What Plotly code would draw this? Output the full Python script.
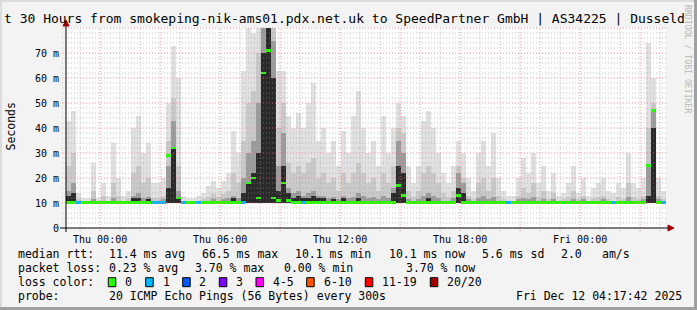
import numpy as np
import pandas as pd
import plotly.graph_objects as go

# ---------------- data ----------------
title_text = "t 30 Hours from smokeping-nik-ams01.pdx.net.uk to SpeedPartner GmbH | AS34225 | Dusseld"
start_time = "2025-12-10 22:17:42"
end_time = "2025-12-12 04:17:42"
bin_minutes = 15
smoke_floor = 10.0

x_tick_vals = ["2025-12-11 00:00", "2025-12-11 03:00", "2025-12-11 06:00", "2025-12-11 09:00",
               "2025-12-11 12:00", "2025-12-11 15:00", "2025-12-11 18:00", "2025-12-11 21:00",
               "2025-12-12 00:00", "2025-12-12 03:00"]
x_tick_text = ["Thu 00:00", "", "Thu 06:00", "", "Thu 12:00", "", "Thu 18:00", "", "Fri 00:00", ""]
y_tick_vals = [0, 10, 20, 30, 40, 50, 60, 70]
y_tick_text = ["0", "10 m", "20 m", "30 m", "40 m", "50 m", "60 m", "70 m"]

max_top = [
    43, 47, 14, 12, 12, 26, 12, 18, 13, 34,
    20, 13, 15, 40, 45, 30, 34, 18, 18, 20,
    50, 73, 60, 13, 12, 12, 13, 14, 17, 19,
    16, 19, 22, 39, 30, 63, 80, 78, 80, 80,
    80, 80, 63, 63, 45, 40, 46, 40, 50, 58,
    35, 40, 30, 35, 25, 39, 30, 45, 55, 40,
    30, 35, 25, 45, 30, 40, 50, 45, 25, 18,
    25, 43, 47, 40, 30, 22, 18, 25, 35, 30,
    20, 15, 30, 35, 25, 38, 20, 15, 13, 13,
    20, 28, 22, 30, 18, 25, 15, 22, 13, 14,
    18, 25, 14, 20, 13, 16, 18, 20, 15, 14,
    18, 16, 30, 18, 16, 20, 74, 60, 20, 15,
]
p90_top = [
    25, 30, 11.5, 11, 11, 15, 11, 13, 11, 18,
    13, 11, 12, 22, 25, 18, 20, 12, 12, 13,
    35, 52, 25, 11, 11, 11, 11, 11.5, 12.5, 13.5,
    12.5, 13.5, 15, 22, 18, 35, 50, 55, 70, 80,
    80, 80, 40, 50, 26, 22, 25, 22, 26, 28,
    20, 22, 18, 20, 15, 22, 18, 22, 26, 22,
    18, 20, 15, 22, 18, 25, 40, 38, 15, 12.5,
    15, 22, 25, 22, 18, 14, 12.5, 15, 25, 20,
    13, 11.5, 18, 20, 15, 20, 13, 11.5, 11, 11,
    13, 16, 14, 18, 12.5, 15, 11.5, 14, 11, 11.5,
    12.5, 15, 11.5, 13, 11, 12, 12.5, 13, 11.5, 11,
    12.5, 11.5, 18, 12.5, 11.5, 13, 40, 50, 13, 11.5,
]
p75_top = [
    15, 18, 10.8, 10.5, 10.5, 11.5, 10.5, 11, 10.6, 12,
    11, 10.6, 10.8, 13, 14, 12, 12.5, 11, 11, 11.5,
    25, 43, 15, 10.5, 10.5, 10.5, 10.5, 10.8, 11, 11.5,
    11, 11.5, 12, 13, 12, 20, 30, 35, 50, 80,
    80, 75, 25, 38, 16, 14, 15, 13, 14, 15,
    13, 13, 12, 12.5, 11.5, 13, 12, 12.5, 14, 13,
    12, 12.5, 11.5, 13, 12, 16, 35, 30, 11.5, 11,
    11.5, 13, 14, 13, 12, 11, 11, 12, 22, 18,
    11.5, 10.8, 12, 13, 11.5, 12.5, 11, 10.8, 10.5, 10.5,
    11.5, 12, 11.5, 12.5, 11, 11.5, 10.8, 11.5, 10.5, 10.6,
    11, 11.5, 10.6, 11.5, 10.5, 10.8, 11, 11.5, 10.8, 10.6,
    11, 10.8, 12.5, 11, 10.8, 11.5, 25, 47, 11.5, 10.8,
]
dark_top = [
    13, 14, 10.5, 10.3, 10.3, 10.8, 10.3, 10.8, 10.4, 11,
    10.8, 10.4, 10.5, 12, 12, 11, 11.5, 10.6, 10.6, 10.8,
    16, 32, 12, 10.3, 10.3, 10.3, 10.3, 10.5, 10.6, 10.8,
    10.6, 10.8, 11, 12, 11, 14, 18, 22, 30, 70,
    80, 60, 15, 25, 14, 12, 13, 12, 12, 13,
    12, 12, 11, 11.5, 11, 12, 11, 11, 12, 11,
    11, 11, 10.8, 11, 10.8, 14, 25, 22, 10.8, 10.5,
    10.8, 11, 12, 11, 10.8, 10.5, 10.5, 11, 16, 14,
    10.6, 10.4, 10.8, 11, 10.6, 11, 10.5, 10.4, 10.3, 10.3,
    10.6, 10.8, 10.6, 11, 10.5, 10.6, 10.4, 10.6, 10.3, 10.4,
    10.5, 10.6, 10.4, 10.6, 10.3, 10.4, 10.5, 10.6, 10.4, 10.4,
    10.5, 10.4, 11, 10.5, 10.4, 10.6, 13, 40, 10.6, 10.4,
]
median_rtt = [
    10.2, 10.2, 10.2, 10.2, 10.2, 10.2, 10.2, 10.2, 10.2, 10.2,
    10.2, 10.2, 10.2, 10.2, 10.2, 10.2, 10.2, 10.2, 10.2, 10.2,
    29, 32, 12, 10.2, 10.2, 10.2, 10.2, 10.2, 10.2, 10.2,
    10.2, 10.2, 10.2, 10.2, 10.2, 10.2, 18, 20, 12, 62,
    71, 12, 11, 18, 11, 10.2, 10.2, 10.2, 10.2, 10.2,
    10.2, 10.2, 10.2, 10.2, 10.2, 10.2, 10.2, 10.2, 10.2, 10.2,
    10.2, 10.2, 10.2, 10.2, 10.2, 10.2, 17, 13, 10.2, 10.2,
    10.2, 10.2, 10.2, 10.2, 10.2, 10.2, 10.2, 10.2, 13, 10.2,
    10.2, 10.2, 10.2, 10.2, 10.2, 10.2, 10.2, 10.2, 10.2, 10.2,
    10.2, 10.2, 10.2, 10.2, 10.2, 10.2, 10.2, 10.2, 10.2, 10.2,
    10.2, 10.2, 10.2, 10.2, 10.2, 10.2, 10.2, 10.2, 10.2, 10.2,
    10.2, 10.2, 10.2, 10.2, 10.2, 10.2, 25, 47, 10.2, 10.2,
]
loss_bins = [
    0, 0, 1, 0, 0, 0, 0, 0, 0, 0,
    0, 0, 0, 0, 0, 0, 0, 1, 1, 1,
    0, 0, 0, 1, 0, 0, 1, 0, 0, 0,
    0, 0, 0, 0, 0, 1, 0, 0, 0, 0,
    0, 0, 0, 0, 0, 0, 0, 1, 0, 0,
    0, 0, 0, 0, 0, 0, 0, 0, 0, 0,
    0, 0, 0, 0, 0, 0, 0, 0, 0, 0,
    0, 0, 0, 0, 0, 0, 0, 0, 0, 0,
    0, 0, 0, 0, 0, 0, 0, 0, 1, 0,
    0, 0, 0, 0, 0, 0, 0, 0, 0, 0,
    0, 0, 0, 0, 0, 0, 0, 0, 0, 1,
    0, 0, 0, 0, 0, 0, 0, 0, 0, 1,
]
loss_labels = ["0", "1", "2", "3", "4-5", "6-10", "11-19", "20/20"]
loss_colors = ["#26ff00", "#00b8ff", "#0059ff", "#7e00ff", "#ff00ff", "#ff5500", "#ff0000", "#a10000"]

stat_line1 = ["median rtt:", "11.4 ms avg", "66.5 ms max", "10.1 ms min", "10.1 ms now", "5.6 ms sd", "2.0", "am/s"]
stat_line2 = ["packet loss:", "0.23 % avg", "3.70 % max", "0.00 % min", "3.70 % now"]
probe_line = ["probe:", "20 ICMP Echo Pings (56 Bytes) every 300s", "Fri Dec 12 04:17:42 2025"]
loss_title = "loss color:"
watermark = "RRDTOOL / TOBI OETIKER"

# ---------------- layout geometry (pixels) ----------------
W, H = 697, 310
L, R, T, B = 66, 666, 27, 228
MONO = "DejaVu Sans Mono"


def xp(px):
    return (px - L) / (R - L)


def yp(py):
    return (B - py) / (B - T)


n_bins = len(max_top)
t0 = pd.Timestamp(start_time)
bin_times = [t0 + pd.Timedelta(minutes=bin_minutes * (i + 0.5)) for i in range(n_bins)]
bin_ms = bin_minutes * 60 * 1000

fig = go.Figure()
bands = [(max_top, "#e0e0e0"), (p90_top, "#c9c9c9"), (p75_top, "#9c9c9c"), (dark_top, "#2a2a2a")]
for top, col in bands:
    fig.add_trace(go.Bar(
        x=bin_times, y=[v - smoke_floor for v in top], base=smoke_floor, width=bin_ms,
        marker=dict(color=col, line=dict(width=0)), hoverinfo="skip", showlegend=False))

fig.add_trace(go.Bar(
    x=bin_times, y=[0.9] * n_bins, base=[m - 0.45 for m in median_rtt], width=bin_ms,
    marker=dict(color=[loss_colors[k] for k in loss_bins], line=dict(width=0)),
    hoverinfo="skip", showlegend=False))

shapes = []
# grid (drawn above like rrdtool)
hours = pd.date_range("2025-12-10 23:00", "2025-12-12 04:00", freq="h")
for h in hours:
    major = h.hour % 3 == 0
    shapes.append(dict(type="line", xref="x", yref="paper", x0=h, x1=h, y0=yp(231), y1=1,
                       line=dict(color="rgba(240,110,110,0.75)" if major else "rgba(150,150,150,0.55)",
                                 width=1, dash="1px,2px"), layer="above"))
for v in range(2, 81, 2):
    major = v % 10 == 0
    shapes.append(dict(type="line", xref="paper", yref="y", x0=xp(62), x1=1, y0=v, y1=v,
                       line=dict(color="rgba(240,110,110,0.75)" if major else "rgba(150,150,150,0.55)",
                                 width=1, dash="1px,2px"), layer="above"))
# axes lines and arrows
shapes.append(dict(type="line", xref="paper", yref="paper", x0=xp(60), x1=xp(670), y0=0, y1=0,
                   line=dict(color="black", width=1), layer="above"))
shapes.append(dict(type="line", xref="paper", yref="paper", x0=0, x1=0, y0=yp(232), y1=yp(24),
                   line=dict(color="black", width=1), layer="above"))
shapes.append(dict(type="path", xref="paper", yref="paper",
                   path=f"M {xp(668)} {yp(225)} L {xp(674)} {yp(228)} L {xp(668)} {yp(231)} Z",
                   fillcolor="#a00000", line=dict(color="#a00000", width=1), layer="above"))
shapes.append(dict(type="path", xref="paper", yref="paper",
                   path=f"M {xp(63)} {yp(26)} L {xp(66)} {yp(20)} L {xp(69)} {yp(26)} Z",
                   fillcolor="#a00000", line=dict(color="#a00000", width=1), layer="above"))
# frame
shapes.append(dict(type="rect", xref="paper", yref="paper", x0=xp(694), x1=xp(697), y0=yp(0), y1=yp(310),
                   fillcolor="#a0a0a0", line=dict(width=0), layer="above"))
shapes.append(dict(type="rect", xref="paper", yref="paper", x0=xp(0), x1=xp(697), y0=yp(307), y1=yp(310),
                   fillcolor="#a0a0a0", line=dict(width=0), layer="above"))
shapes.append(dict(type="rect", xref="paper", yref="paper", x0=xp(0), x1=xp(2), y0=yp(0), y1=yp(307),
                   fillcolor="#dcdcdc", line=dict(width=0), layer="above"))
shapes.append(dict(type="rect", xref="paper", yref="paper", x0=xp(0), x1=xp(694), y0=yp(0), y1=yp(2),
                   fillcolor="#dcdcdc", line=dict(width=0), layer="above"))

ann = []


def text(s, px, py, size=11.5, anchor="left", color="black", angle=0):
    ann.append(dict(text=s, xref="paper", yref="paper", x=xp(px), y=yp(py), xanchor=anchor,
                    yanchor="middle", showarrow=False, textangle=angle,
                    font=dict(family=MONO, size=size, color=color)))


text(title_text, 1.5, 18.5, size=13)
text("Seconds", 10.5, 127, size=11.5, anchor="center", angle=-90)
text(watermark, 688, 59, size=8.2, anchor="center", color="#b8b8b8", angle=90)

for s, px in zip(stat_line1, [16, 107, 200, 293, 387, 480, 559, 600]):
    text(s, px, 254.3)
for s, px in zip(stat_line2, [16, 107, 193, 282, 404]):
    text(s, px, 268.3)
text(loss_title, 16, 281.7)
box_x = [108.3, 145.7, 182.7, 219.3, 256, 306.7, 365.3, 430.3]
lab_x = [123.3, 160.7, 197.3, 234, 270.7, 321.7, 380.3, 445.3]
for lab, col, bx, lx in zip(loss_labels, loss_colors, box_x, lab_x):
    shapes.append(dict(type="rect", xref="paper", yref="paper", x0=xp(bx), x1=xp(bx + 7.5),
                       y0=yp(286.7), y1=yp(277.7), fillcolor=col, line=dict(color="black", width=1)))
    text(lab, lx, 281.7)
for s, px in zip(probe_line, [16, 107, 514]):
    text(s, px, 296)

fig.update_layout(
    width=W, height=H, margin=dict(l=L, r=W - R, t=T, b=H - B, pad=0),
    paper_bgcolor="#f3f3f3", plot_bgcolor="white",
    barmode="overlay", bargap=0, showlegend=False,
    shapes=shapes, annotations=ann,
    font=dict(family=MONO, size=10, color="black"),
)
fig.update_xaxes(type="date", range=[start_time, end_time], tickmode="array",
                 tickvals=x_tick_vals, ticktext=x_tick_text, showgrid=False, zeroline=False,
                 showline=False, ticks="", tickfont=dict(family=MONO, size=10, color="black"),
                 ticklabelstandoff=4)
fig.update_yaxes(range=[0, 80.4], tickmode="array", tickvals=y_tick_vals, ticktext=y_tick_text,
                 showgrid=False, zeroline=False, showline=False, ticks="",
                 tickfont=dict(family=MONO, size=10, color="black"), ticklabelstandoff=6)

fig.write_html("out.html")
